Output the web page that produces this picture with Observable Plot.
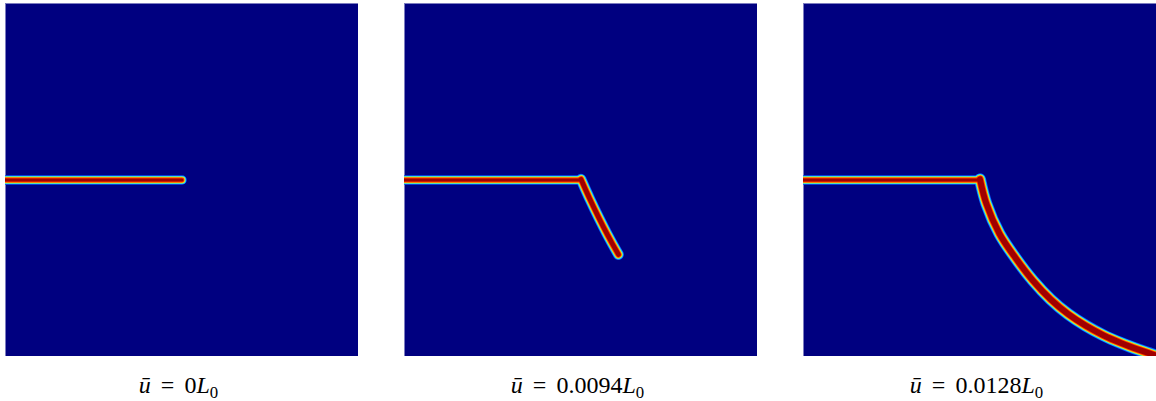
<!DOCTYPE html>
<html>
<head>
<meta charset="utf-8">
<script src="https://cdn.jsdelivr.net/npm/d3@7"></script>
<script src="https://cdn.jsdelivr.net/npm/@observablehq/plot@0.6"></script>
<style>
  body { margin: 0; background: #ffffff; }
  #wrap { position: relative; width: 1156px; height: 401px; overflow: hidden; background: #fff; }
  .panel { position: absolute; top: 3px; }
  .panel svg { display: block; overflow: hidden; }
  .lab { position: absolute; top: 373px; width: 353px; text-align: center;
         font-family: "Liberation Serif", serif; font-size: 24px; line-height: 24px; color: #000; }
  .lab .eq { margin: 0 0.42em; }
  .lab sub { font-size: 0.7em; vertical-align: -0.3em; line-height: 0; }
</style>
</head>
<body>
<div id="wrap"></div>
<script>
// Applied displacement for each snapshot (in units of L0)
const displacements = [0, 0.0094, 0.0128];
const displacementLabels = ["0", "0.0094", "0.0128"];

// Initial notch: from left edge to centre (normalised specimen coords, y measured upward)
const notchX = [0.0, 0.5];
const notchY = [0.5, 0.5];

// Crack branch at u = 0.0094 L0
const branch2X = [0.500, 0.525, 0.550, 0.575, 0.606];
const branch2Y = [0.502, 0.446, 0.394, 0.345, 0.289];

// Crack branch at u = 0.0128 L0
const branch3X = [0.500, 0.518, 0.555, 0.600, 0.650, 0.700, 0.750, 0.800, 0.850, 0.900, 0.950, 1.000];
const branch3Y = [0.502, 0.433, 0.348, 0.280, 0.215, 0.162, 0.120, 0.087, 0.060, 0.038, 0.019, 0.002];

const toPts = (xs, ys) => xs.map((x, i) => ({x, y: ys[i]}));
const notch = toPts(notchX, notchY);
const branches = [[], toPts(branch2X, branch2Y), toPts(branch3X, branch3Y)];

// jet-like damage band layers, outer to inner
const layers = [
  {c: "#0a50ff", w: 9.5},
  {c: "#12c8ff", w: 8.2},
  {c: "#9cff62", w: 6.8},
  {c: "#ffc800", w: 5.8},
  {c: "#ff3a00", w: 4.8},
  {c: "#a00000", w: 3.2}
];
const branchExtra = [0, 1.4, 2.6];

const lefts = [5, 404, 803];
const size = 353;
const wrap = document.getElementById("wrap");

displacements.forEach((u, k) => {
  const marks = [Plot.frame({fill: "#000080", stroke: "#7c7cc0", strokeWidth: 1})];
  for (const L of layers) {
    marks.push(Plot.line(notch, {x: "x", y: "y", stroke: L.c, strokeWidth: L.w,
      strokeLinecap: "round", strokeLinejoin: "round", clip: true}));
    if (branches[k].length) {
      marks.push(Plot.line(branches[k], {x: "x", y: "y", stroke: L.c, strokeWidth: L.w + branchExtra[k],
        curve: "catmull-rom", strokeLinecap: "round", strokeLinejoin: "round", clip: true}));
    }
  }
  const chart = Plot.plot({
    width: size, height: size,
    margin: 0,
    x: {domain: [0, 1], axis: null},
    y: {domain: [0, 1], axis: null},
    marks
  });
  const div = document.createElement("div");
  div.className = "panel";
  div.style.left = lefts[k] + "px";
  div.appendChild(chart);
  wrap.appendChild(div);

  const lab = document.createElement("div");
  lab.className = "lab";
  lab.style.left = (lefts[k] - 3) + "px";
  lab.innerHTML = `<i>u\u0304</i><span class="eq">=</span>${displacementLabels[k]}<i>L</i><sub>0</sub>`;
  wrap.appendChild(lab);
});
</script>
</body>
</html>
